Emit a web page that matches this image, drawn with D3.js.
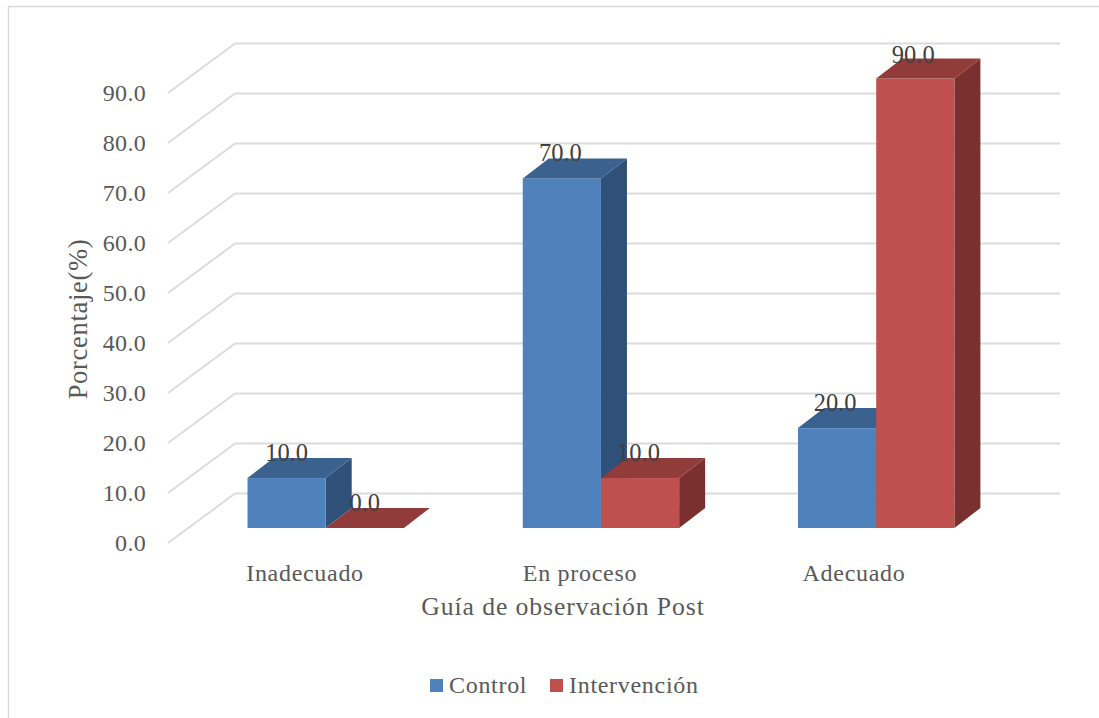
<!DOCTYPE html>
<html><head><meta charset="utf-8">
<script src="https://cdn.jsdelivr.net/npm/d3@7"></script>
<style>html,body{margin:0;padding:0;background:#fff}svg{display:block}text{font-family:"Liberation Serif",serif;fill:#595959}</style>
</head><body><div id="c"></div>
<script>
const categories=["Inadecuado","En proceso","Adecuado"];
const seriesNames=["Control","Intervención"];
const control=[10,70,20];
const intervencion=[0,10,90];
const yTicks=[0,10,20,30,40,50,60,70,80,90];
const labelText=d3.format(".1f");
const W=1099,H=718;
const svg=d3.select("#c").append("svg").attr("width",W).attr("height",H);
const DX=26,DY=-20;              // bar depth
const WX=67,WY=-49.5;            // wall depth
const y=d3.scaleLinear().domain([0,90]).range([528,78.5]);
const yWall=d3.scaleLinear().domain([0,90]).range([543,93]);
const xCat=d3.scalePoint().domain(categories).range([325.7,876.2]);
const barW=78.2;
const colors=[{f:"#4f81bd",t:"#3b618e",s:"#2f5079"},{f:"#c0504d",t:"#913c3a",s:"#7a302e"}];

// frame
svg.append("path").attr("d","M8.5,718V6.5H1099").attr("fill","none").attr("stroke","#d9d9d9").attr("stroke-width",1.5);

// gridlines
const g=svg.append("g").attr("fill","none").attr("stroke","#dcdcdc").attr("stroke-width",2);
yTicks.forEach(v=>{
  g.append("path").attr("d",`M168,${yWall(v)}L${168+WX},${yWall(v)+WY}H1060`);
});

// tick labels
svg.append("g").selectAll("text").data(yTicks).join("text")
 .attr("x",146).attr("y",d=>yWall(d)+8).attr("text-anchor","end")
 .style("font-size","24px").style("letter-spacing","0.3px").text(labelText);

// bars
const series=[control,intervencion];
const order=[];
categories.forEach((c,i)=>{order.push([0,i]);order.push([1,i]);});
order.forEach(([s,i])=>{
  const v=series[s][i], x0=xCat(categories[i])+(s==0?-barW:0), x1=x0+barW, yT=y(v), yB=y(0);
  const b=svg.append("g");
  if(v>0){
    b.append("path").attr("d",`M${x1},${yT}L${x1+DX},${yT+DY}V${yB+DY}L${x1},${yB}Z`).attr("fill",colors[s].s);
    b.append("rect").attr("x",x0).attr("y",yT).attr("width",barW).attr("height",yB-yT).attr("fill",colors[s].f);
  }
  b.append("path").attr("d",`M${x0},${yT}L${x0+DX},${yT+DY}H${x1+DX}L${x1},${yT}Z`).attr("fill",colors[s].t);
});

// data labels
order.forEach(([s,i])=>{
  const v=series[s][i], x0=xCat(categories[i])+(s==0?-barW:0);
  svg.append("text").attr("x",x0+barW/2-(i==0?0:(i==1?1.5:2)))
   .attr("y",y(v)-(v==90?15.5:17.5)).attr("text-anchor","middle")
   .style("font-size","24.5px").style("fill","#404040").text(labelText(v));
});

// category labels
svg.append("g").selectAll("text").data(categories).join("text")
 .attr("x",(d,i)=>[305,580,854][i]).attr("y",581).attr("text-anchor","middle")
 .style("font-size","24px").style("letter-spacing","0.7px").text(d=>d);

// axis titles
svg.append("text").attr("x",563).attr("y",615).attr("text-anchor","middle")
 .style("font-size","25.7px").style("letter-spacing","0.9px").text("Guía de observación Post");
svg.append("text").attr("transform","translate(87,319) rotate(-90)").attr("text-anchor","middle")
 .style("font-size","26.5px").style("letter-spacing","0.7px").text("Porcentaje(%)");

// legend
const lx=[430,550];
seriesNames.forEach((n,i)=>{
  svg.append("rect").attr("x",lx[i]).attr("y",679).attr("width",13).attr("height",13).attr("fill",colors[i].f);
  svg.append("text").attr("x",lx[i]+19).attr("y",693).style("font-size","24px").style("letter-spacing","0.7px").text(n);
});
</script></body></html>
